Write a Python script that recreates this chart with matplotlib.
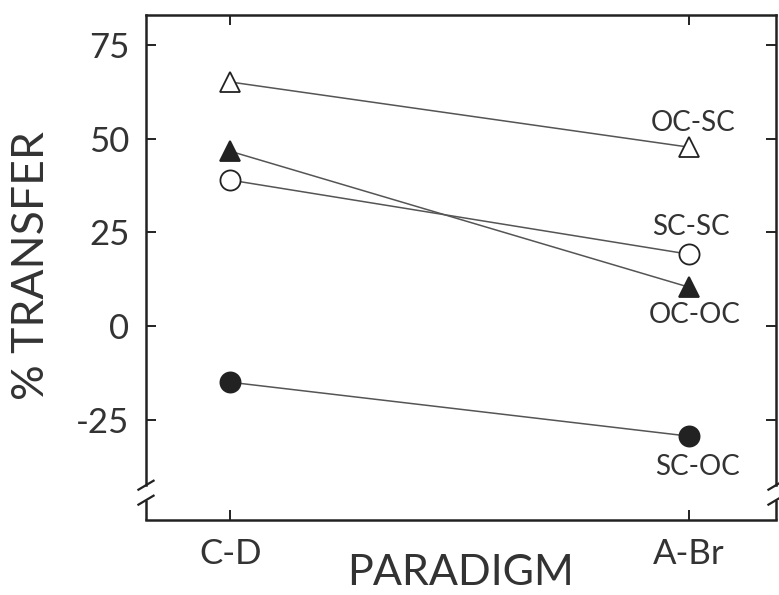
import matplotlib
matplotlib.use("Agg")
import matplotlib.pyplot as plt
import matplotlib.transforms as mtransforms

plt.rcParams['font.family'] = ['Lato', 'DejaVu Sans']

paradigms = ["C-D", "A-Br"]
series_names = ["OC-SC", "OC-OC", "SC-SC", "SC-OC"]
oc_sc = [65.2, 47.8]
oc_oc = [46.7, 10.4]
sc_sc = [39.0, 19.2]
sc_oc = [-15.0, -29.4]
y_ticks = [75, 50, 25, 0, -25]
y_tick_labels = ["75", "50", "25", "0", "-25"]

W, H = 779, 595
fig = plt.figure(figsize=(W / 100, H / 100), dpi=100)
ax = fig.add_axes([146 / W, 1 - 520 / H, (776 - 146) / W, (520 - 15) / H])

x = list(range(len(paradigms)))
ink = "#222222"
line_c = "#555555"
txt_c = "#333333"
styles = [
    (oc_sc, "^", "white", 15),
    (oc_oc, "^", ink, 15),
    (sc_sc, "o", "white", 14.5),
    (sc_oc, "o", ink, 14.5),
]
for vals, m, fc, ms in styles:
    ax.plot(x, vals, color=line_c, lw=1.1, zorder=2)
    ax.plot(x, vals, linestyle="none", marker=m, markersize=ms,
            markerfacecolor=fc, markeredgecolor=ink, markeredgewidth=1.3, zorder=3)

# series labels near the A-Br points (offsets in points)
label_offsets = {"OC-SC": (3, 19.5), "SC-SC": (1.5, 21.5), "OC-OC": (4, -18), "SC-OC": (6, -20.5)}
for name, vals in zip(series_names, [oc_sc, oc_oc, sc_sc, sc_oc]):
    dx, dy = label_offsets[name]
    ax.annotate(name, (x[1], vals[1]), xytext=(dx, dy), textcoords="offset points",
                ha="center", va="center_baseline", fontsize=20, color=txt_c)

ax.set_xlim(-0.184, 1.19)
ax.set_ylim(-51.8, 83.1)
ax.set_xticks(x)
ax.set_xticklabels(paradigms)
ax.set_yticks(y_ticks)
ax.set_yticklabels(y_tick_labels)

ax.tick_params(direction="in", length=7, width=1.4, color=ink, labelsize=25,
               labelcolor=txt_c, top=True, right=True, pad=12)
ax.tick_params(axis="x", pad=13)

for s in ax.spines.values():
    s.set_linewidth(1.8)
    s.set_color(ink)

# axis break on left and right spines
y_break_hi = -42.5
y_break_lo = -46.5
ax.spines["left"].set_bounds(y_break_hi, 83.1)
ax.spines["right"].set_bounds(y_break_hi, 83.1)
trans_l = mtransforms.blended_transform_factory(ax.transAxes, ax.transData)
for xs in (0.0, 1.0):
    ax.plot([xs, xs], [-51.8, y_break_lo], transform=trans_l, color=ink, lw=1.8,
            clip_on=False, solid_capstyle="butt")
    for yb in (y_break_hi, y_break_lo):
        ax.plot([xs - 0.012, xs + 0.012], [yb - 1.2, yb + 1.2], transform=trans_l,
                color=ink, lw=1.6, clip_on=False)

fig.text(460 / W, 1 - 585 / H, "PARADIGM", fontsize=31, color=txt_c,
         ha="center", va="baseline")
fig.text(31 / W, 1 - 266 / H, "% TRANSFER", fontsize=32, color=txt_c,
         ha="center", va="center", rotation=90)

fig.savefig("out.png", dpi=100)
